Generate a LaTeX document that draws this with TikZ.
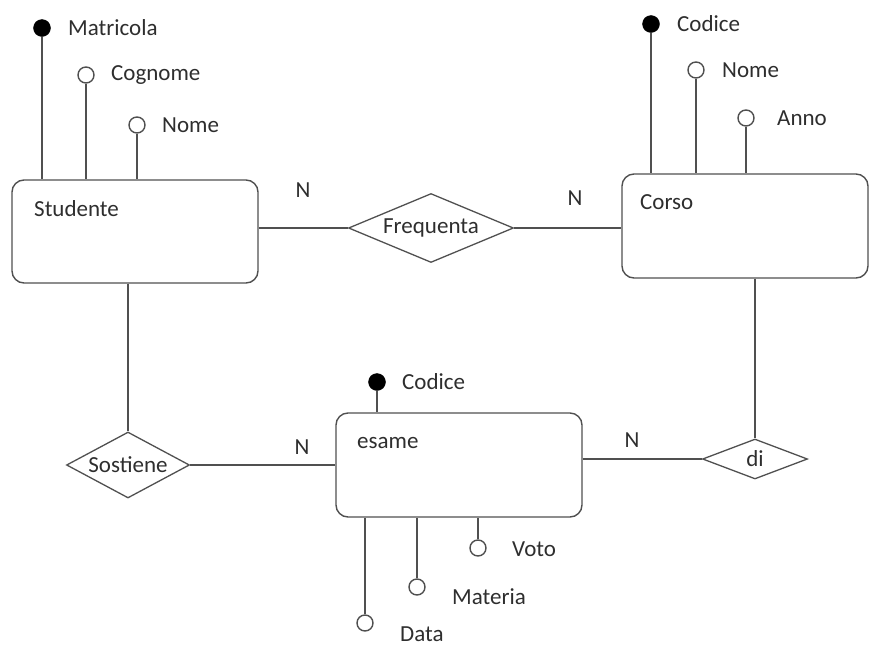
\documentclass[tikz,border=0pt]{standalone}
\usepackage{fontspec}
\setmainfont{Carlito}
\usetikzlibrary{shapes.geometric}
\definecolor{ln}{HTML}{505050}
\definecolor{tx}{HTML}{2E2E2E}
\begin{document}
\begin{tikzpicture}[x=1pt,y=-1pt, font=\fontsize{23}{28}\selectfont, text=tx,
 entity/.style={draw=ln, line width=1.4pt, rounded corners=12pt},
 rel/.style={draw=ln, line width=1.3pt, diamond, inner sep=0pt},
 conn/.style={draw=ln, line width=1.3pt},
 keyattr/.style={circle, fill=black, draw=black, inner sep=0pt, minimum size=17pt},
 attr/.style={circle, draw=ln, line width=1.4pt, fill=white, inner sep=0pt, minimum size=16pt},
 lbl/.style={anchor=west, inner sep=0pt},
 card/.style={inner sep=0pt}]
\useasboundingbox (0,0) rectangle (871,646);
% entities
\node[entity, minimum width=246pt, minimum height=103pt] (stud) at (135,231.5) {};
\node[entity, minimum width=246pt, minimum height=104pt] (corso) at (745,226) {};
\node[entity, minimum width=246pt, minimum height=104pt] (esame) at (459,465) {};
\node[lbl] (studT) at (34,209) {Studente};
\node[lbl] (corsoT) at (640,202) {Corso};
\node[lbl] (esameT) at (357,443) {esame};
% relationships
\node[rel, aspect=2.4, minimum width=165pt, minimum height=69pt] (freq) at (431,228) {Frequenta};
\node[rel, aspect=1.86, minimum width=123pt, minimum height=66pt] (sost) at (128,465) {Sostiene};
\node[rel, aspect=2.6, minimum width=105pt, minimum height=40pt] (di) at (755,459) {di};
% attributes of Studente
\node[keyattr] (matr) at (42,28) {};
\node[lbl] (matrT) at (68,28) {Matricola};
\node[attr] (cogn) at (86,75) {};
\node[lbl] (cognT) at (111,75) {Cognome};
\node[attr] (snome) at (137,125) {};
\node[lbl] (snomeT) at (162,125) {Nome};
% attributes of Corso
\node[keyattr] (ccod) at (651,24) {};
\node[lbl] (ccodT) at (677,24) {Codice};
\node[attr] (cnome) at (696,70) {};
\node[lbl] (cnomeT) at (722,70) {Nome};
\node[attr] (canno) at (746,118) {};
\node[lbl] (cannoT) at (777,118) {Anno};
% attributes of esame
\node[keyattr] (ecod) at (377,382) {};
\node[lbl] (ecodT) at (402,382) {Codice};
\node[attr] (voto) at (478,548) {};
\node[lbl] (votoT) at (512,549) {Voto};
\node[attr] (mat) at (417,587) {};
\node[lbl] (matT) at (452,597) {Materia};
\node[attr] (data) at (365,623) {};
\node[lbl] (dataT) at (400,634) {Data};
% attribute connectors
\draw[conn] (matr) -- (matr |- stud.north);
\draw[conn] (cogn) -- (cogn |- stud.north);
\draw[conn] (snome) -- (snome |- stud.north);
\draw[conn] (ccod) -- (ccod |- corso.north);
\draw[conn] (cnome) -- (cnome |- corso.north);
\draw[conn] (canno) -- (canno |- corso.north);
\draw[conn] (ecod) -- (ecod |- esame.north);
\draw[conn] (voto) -- (voto |- esame.south);
\draw[conn] (mat) -- (mat |- esame.south);
\draw[conn] (data) -- (data |- esame.south);
% relationship connectors
\draw[conn] (freq.west -| stud.east) -- (freq.west);
\draw[conn] (freq.east) -- (freq.east -| corso.west);
\draw[conn] (sost.north |- stud.south) -- (sost.north);
\draw[conn] (sost.east) -- (sost.east -| esame.west);
\draw[conn] (di.north |- corso.south) -- (di.north);
\draw[conn] (di.west -| esame.east) -- (di.west);
% cardinalities
\node[card] (n1) at (303,190) {N};
\node[card] (n2) at (575,198) {N};
\node[card] (n3) at (302,447) {N};
\node[card] (n4) at (632,440) {N};
\end{tikzpicture}
\end{document}
